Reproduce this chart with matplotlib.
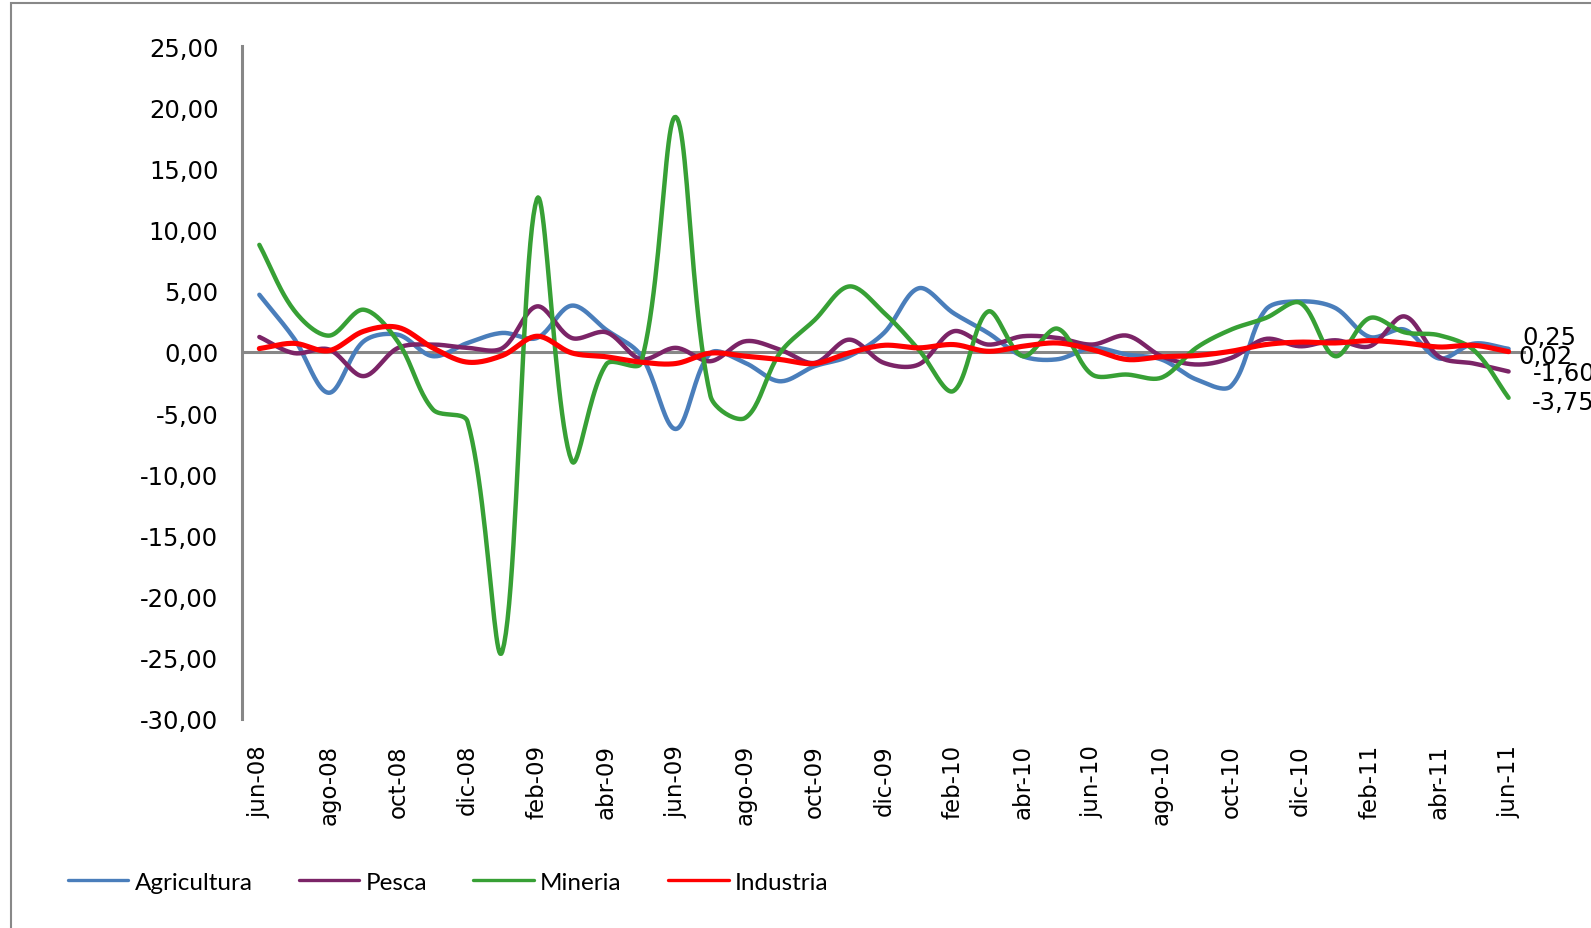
import numpy as np
import matplotlib
matplotlib.use('Agg')
import matplotlib.pyplot as plt
from matplotlib.patches import Rectangle

# monthly variation by sector, jun-08 .. jun-11
meses = ['jun-08', 'jul-08', 'ago-08', 'sep-08', 'oct-08', 'nov-08', 'dic-08',
         'ene-09', 'feb-09', 'mar-09', 'abr-09', 'may-09', 'jun-09', 'jul-09',
         'ago-09', 'sep-09', 'oct-09', 'nov-09', 'dic-09', 'ene-10', 'feb-10',
         'mar-10', 'abr-10', 'may-10', 'jun-10', 'jul-10', 'ago-10', 'sep-10',
         'oct-10', 'nov-10', 'dic-10', 'ene-11', 'feb-11', 'mar-11', 'abr-11',
         'may-11', 'jun-11']

agricultura = [4.67, 1.1, -3.34, 0.85, 1.4, -0.35, 0.73, 1.55, 1.14, 3.78, 1.8, -0.3,
               -6.3, -0.1, -0.9, -2.4, -1.17, -0.35, 1.55, 5.2, 3.18, 1.55, -0.35,
               -0.6, 0.33, -0.22, -0.62, -2.25, -2.8, 3.45, 4.13, 3.6, 1.22, 1.82,
               -0.54, 0.68, 0.25]
pesca = [1.22, -0.1, 0.2, -1.98, 0.33, 0.6, 0.33, 0.3, 3.72, 1.14, 1.6, -0.6, 0.33,
         -0.76, 0.87, 0.19, -0.9, 1.0, -0.9, -1.03, 1.68, 0.6, 1.28, 1.14, 0.6, 1.33,
         -0.35, -1.03, -0.5, 1.06, 0.46, 0.95, 0.46, 2.9, -0.4, -0.95, -1.6]
mineria = [8.75, 3.4, 1.33, 3.45, 0.8, -4.7, -5.7, -24.5, 12.5, -8.9, -1.0, -0.9, 19.2,
           -3.6, -5.4, -0.1, 2.6, 5.35, 3.2, 0.19, -3.2, 3.3, -0.35, 1.9, -1.85, -1.85,
           -2.1, 0.33, 1.82, 2.77, 4.0, -0.35, 2.77, 1.6, 1.36, 0.14, -3.75]
industria = [0.27, 0.7, 0.1, 1.68, 2.0, 0.33, -0.84, -0.3, 1.28, -0.08, -0.4, -0.84,
             -0.95, -0.1, -0.35, -0.62, -0.95, -0.08, 0.54, 0.33, 0.6, 0.05, 0.46, 0.73,
             0.19, -0.62, -0.4, -0.3, 0.05, 0.6, 0.8, 0.73, 0.92, 0.73, 0.4, 0.54, 0.02]

series = [('Agricultura', agricultura, '#4A7EBB', 3.2),
          ('Pesca', pesca, '#7B2467', 3.2),
          ('Mineria', mineria, '#37A035', 3.2),
          ('Industria', industria, '#FF0000', 3.7)]


def smooth(ys, sx=34.7, sy=12.24, n=25):
    # bezier smoothing, control points scaled by neighbouring segment lengths
    P = np.column_stack([np.arange(len(ys)) * sx, np.asarray(ys) * sy])
    m = len(P)
    pts = [P[:1]]
    t = np.linspace(0, 1, n)[1:, None]
    for i in range(m - 1):
        p0 = P[i - 1] if i > 0 else P[i]
        p1, p2 = P[i], P[i + 1]
        p3 = P[i + 2] if i + 2 < m else P[i + 1]
        d01 = np.hypot(*(p1 - p0))
        d12 = np.hypot(*(p2 - p1))
        d23 = np.hypot(*(p3 - p2))
        c1 = p1 + (p2 - p0) * (d12 / (d01 + d12)) / 3
        c2 = p2 - (p3 - p1) * (d12 / (d12 + d23)) / 3
        seg = ((1 - t) ** 3 * p1 + 3 * (1 - t) ** 2 * t * c1
               + 3 * (1 - t) * t ** 2 * c2 + t ** 3 * p2)
        pts.append(seg)
    B = np.vstack(pts)
    return B[:, 0] / sx, B[:, 1] / sy


fig = plt.figure(figsize=(15.91, 9.29), dpi=100)
ax = fig.add_axes([0.1521, 0.2250, 0.8070, 0.7244])

grey = '#878787'
ax.axhline(0, color=grey, lw=2.2, zorder=1)
for name, vals, col, lw in series:
    xs, ys = smooth(vals)
    ax.plot(xs, ys, color=col, lw=lw, label=name, solid_capstyle='round', zorder=2)

# value labels at the last month
last = len(meses) - 1
offsets = {'Agricultura': (10, 8.6), 'Pesca': (17.3, -1.2),
           'Mineria': (16.6, -3), 'Industria': (7.2, -3.2)}
for name, vals, col, lw in series:
    ax.annotate(f'{vals[-1]:.2f}'.replace('.', ','), (last, vals[-1]),
                xytext=offsets[name], textcoords='offset points',
                ha='left', va='center', fontsize=17.5, family='DejaVu Sans',
                annotation_clip=False)

ax.set_xlim(-0.5, len(meses) - 0.5)
ax.set_ylim(-30, 25)
ax.set_yticks(np.arange(-30, 26, 5))
ax.set_yticklabels([f'{v:.2f}'.replace('.', ',') for v in np.arange(-30, 26, 5)])
ax.set_xticks(range(0, len(meses), 2))
ax.set_xticklabels(meses[::2], rotation=90, va='top', ha='center')
ax.tick_params(axis='y', length=0, pad=17, labelsize=17.5)
ax.tick_params(axis='x', length=0, pad=18, labelsize=16.5)

for s in ['top', 'right', 'bottom']:
    ax.spines[s].set_visible(False)
ax.spines['left'].set_color(grey)
ax.spines['left'].set_linewidth(2.2)

leg = fig.legend(loc='center left', bbox_to_anchor=(0.0425, 0.049), ncol=4,
                 frameon=False, prop={'family': 'Lato', 'size': 17.5},
                 handlelength=2.5, handletextpad=0.25, columnspacing=1.9,
                 borderaxespad=0, borderpad=0)
for h in leg.get_lines():
    h.set_linewidth(2.4)

# outer chart border
fig.patches.append(Rectangle((11 / 1591, -0.5), 2, 1.5 - 4 / 929,
                             transform=fig.transFigure, fill=False,
                             edgecolor='#888888', lw=1.5))

fig.savefig('out.png', dpi=100)
